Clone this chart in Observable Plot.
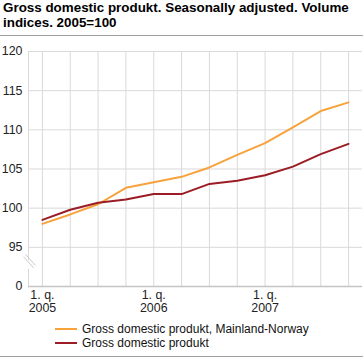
<!DOCTYPE html>
<html><head><meta charset="utf-8">
<script src="https://cdn.jsdelivr.net/npm/d3@7"></script>
<script src="https://cdn.jsdelivr.net/npm/@observablehq/plot@0.6"></script>
<style>
body{margin:0;width:363px;height:358px;font-family:"Liberation Sans",Arial,sans-serif;background:#fff;position:relative;overflow:hidden;color:#000}
#title{position:absolute;left:3px;top:1px;font-weight:bold;font-size:13.4px;line-height:14.5px;white-space:nowrap}
#rule1{position:absolute;left:0;top:35px;width:363px;height:0;border-top:1px solid #a0a0a0}
#chart{position:absolute;left:0;top:36px}
#legend{position:absolute;left:55px;top:322px;font-size:12px;line-height:14px;color:#111}
#legend .row{display:flex;align-items:center;white-space:nowrap}
#legend .sw{display:inline-block;width:22px;height:2px;margin-right:5px}
#rule2{position:absolute;left:0;top:356px;width:363px;height:0;border-top:1px solid #a0a0a0}
</style></head>
<body>
<div id="title">Gross domestic produkt. Seasonally adjusted. Volume<br>indices. 2005=100</div>
<div id="rule1"></div>
<div id="chart"></div>
<div id="legend"></div>
<div id="rule2"></div>
<script>
// ---- data ----
const quarters = ["2005Q1","2005Q2","2005Q3","2005Q4","2006Q1","2006Q2","2006Q3","2006Q4","2007Q1","2007Q2","2007Q3","2007Q4"];
const xTickLabels = ["1. q.\n2005","","","","1. q.\n2006","","","","1. q.\n2007","","",""];
const mainlandNorway = [98.0, 99.2, 100.5, 102.6, 103.3, 104.0, 105.2, 106.8, 108.3, 110.3, 112.4, 113.5];
const gdp = [98.5, 99.8, 100.7, 101.1, 101.8, 101.8, 103.1, 103.5, 104.2, 105.3, 106.9, 108.2];
const seriesNames = ["Gross domestic produkt, Mainland-Norway", "Gross domestic produkt"];
const seriesColors = ["#f7a23b", "#9b1c24"];
const yTicks = [90, 95, 100, 105, 110, 115, 120];
const yTickLabels = ["0", "95", "100", "105", "110", "115", "120"];

const rows = [];
quarters.forEach((q, i) => {
  rows.push({i, q, value: mainlandNorway[i], series: seriesNames[0]});
  rows.push({i, q, value: gdp[i], series: seriesNames[1]});
});
const idx = quarters.map((_, i) => i);
const grid = "#d9d9d9";

const plot = Plot.plot({
  width: 363,
  height: 280,
  marginTop: 15,
  marginBottom: 30,
  marginLeft: 28,
  marginRight: 1,
  style: {fontFamily: '"Liberation Sans", Arial, sans-serif', fontSize: "12px", color: "#222", background: "#fff"},
  x: {type: "linear", domain: [-0.5, quarters.length - 0.5]},
  y: {domain: [90, 120]},
  color: {domain: seriesNames, range: seriesColors},
  marks: [
    Plot.gridX(idx, {stroke: grid, strokeOpacity: 1}),
    Plot.gridY(yTicks.slice(1), {stroke: grid, strokeOpacity: 1}),
    Plot.ruleY([90], {stroke: "#c4c4c4", strokeWidth: 1.5}),
    Plot.ruleX([{y1: 90, y2: 92.2}, {y1: 93.3, y2: 120}], {x: -0.5, y1: "y1", y2: "y2", stroke: grid}),
    Plot.link([{a: -0.68, b: 93.8, c: -0.32, d: 92.4}, {a: -0.61, b: 94.1, c: -0.25, d: 92.7}],
      {x1: "a", y1: "b", x2: "c", y2: "d", stroke: "#c8c8c8", strokeWidth: 1}),
    Plot.axisY(yTicks, {tickSize: 0, tickPadding: 6, tickFormat: (d) => yTickLabels[yTicks.indexOf(d)], fill: "#222", fontSize: 12.4}),
    Plot.axisX(idx, {tickSize: 0, tickPadding: 3, lineHeight: 1.05, tickFormat: (d) => xTickLabels[d], fill: "#222", fontSize: 12.4}),
    Plot.line(rows, {x: "i", y: "value", stroke: "series", z: "series", strokeWidth: 2})
  ]
});
document.getElementById("chart").appendChild(plot);

const legend = d3.select("#legend");
seriesNames.forEach((name, k) => {
  const row = legend.append("div").attr("class", "row");
  row.append("span").attr("class", "sw").style("background", seriesColors[k]);
  row.append("span").text(name);
});
</script>
</body></html>
